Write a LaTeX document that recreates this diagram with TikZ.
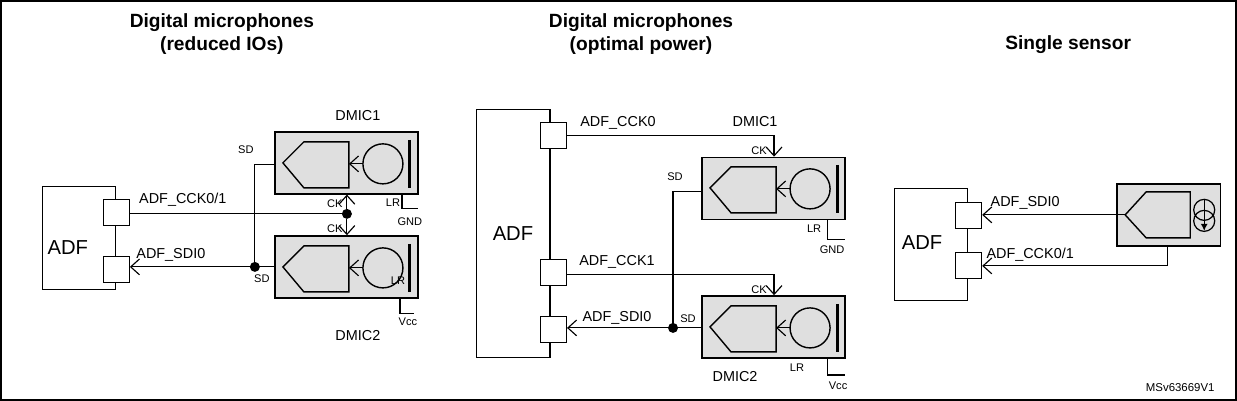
\documentclass[tikz,border=0pt]{standalone}
\usepackage{fontspec}
\setmainfont{Liberation Sans}
\usetikzlibrary{arrows.meta,positioning}

% mic block contents, (#1,#2) = top left corner of the grey box
\newcommand{\micinner}[2]{
  \begin{scope}[shift={(#1,#2)}]
    \draw[line width=0.8pt] (8,31) -- (29,10) -- (74,10) -- (74,56) -- (29,56) -- cycle;
    \draw[line width=0.8pt] (108,32) circle (20);
    \draw[line width=1.7pt] (135,8) -- (135,56);
    \draw[sig] (88,32) -- (74,32);
  \end{scope}
}

\tikzset{
  sig/.style={line width=0.65pt,-{Straight Barb[length=5pt,width=9pt]}},
  wire/.style={line width=0.65pt},
  mic box/.style={draw,line width=0.8pt,fill=gray!25,minimum width=2.86cm,minimum height=1.24cm,inner sep=0pt},
  adf box/.style={draw,line width=0.6pt,fill=white,inner sep=0pt},
  pin/.style={draw,line width=0.6pt,fill=white,minimum size=0.52cm,inner sep=0pt},
  dot/.style={circle,fill=black,minimum size=0.2cm,inner sep=0pt},
  title/.style={font=\fontsize{10.9}{13}\selectfont\bfseries,align=center},
  lbl/.style={font=\fontsize{8.2}{9}\selectfont,inner sep=0pt},
  sml/.style={font=\fontsize{6.3}{7}\selectfont,inner sep=0pt},
  big/.style={font=\fontsize{11.5}{13}\selectfont,inner sep=0pt}
}

\begin{document}
\begin{tikzpicture}[x=0.02cm,y=-0.02cm]
  \draw[line width=0.9pt] (1,1) rectangle (1236,400);

  % ---------- reduced IOs ----------
  \node[title] (t1) at (222,34) {Digital microphones\\(reduced IOs)};
  \node[adf box,minimum width=1.46cm,minimum height=2.06cm] (adfa) at (79.5,238.5) {};
  \node[big] at (68,248) {ADF};
  \node[pin] (pa1) at (116.5,213) {};
  \node[pin] (pa2) at (116.5,269.5) {};
  \node[mic box] (ma1) at (346.5,163) {};
  \node[mic box] (ma2) at (346.5,267) {};
  \micinner{275}{132}
  \micinner{275}{236}
  \node[dot] (ja1) at (347,214) {};
  \node[dot] (ja2) at (255,267) {};
  \coordinate (sa) at (255,165);
  \draw[wire] (pa1.east |- ja1) -- (ja1);
  \draw[sig] (ja1) -- (ja1 |- ma1.south);
  \draw[sig] (ja1) -- (ja1 |- ma2.north);
  \draw[wire] (ma1.west |- sa) -- (sa) -- (ja2);
  \draw[sig] (ma2.west |- ja2) -- (pa2.east |- ja2);
  \draw[wire] (402,194) -- (402,209) -- (418,209);
  \draw[wire] (400,298) -- (400,314) -- (414,314);
  \node[lbl] at (183,200) {ADF\_CCK0/1};
  \node[lbl] at (171,255) {ADF\_SDI0};
  \node[lbl] at (358,116) {DMIC1};
  \node[lbl] at (358,336) {DMIC2};
  \node[sml] at (246,150) {SD};
  \node[sml] at (262,279) {SD};
  \node[sml] at (335,204) {CK};
  \node[sml] at (335,229) {CK};
  \node[sml] at (393,203) {LR};
  \node[sml] at (410,222) {GND};
  \node[sml] at (398,281) {LR};
  \node[sml] at (408,322) {Vcc};

  % ---------- optimal power ----------
  \node[title] (t2) at (641,34) {Digital microphones\\(optimal power)};
  \node[adf box,minimum width=1.46cm,minimum height=4.96cm] (adfb) at (513.5,234) {};
  \node[big] at (513,234) {ADF};
  \node[pin] (pb1) at (553.5,136) {};
  \node[pin] (pb2) at (553.5,272.5) {};
  \node[pin] (pb3) at (553.5,329.5) {};
  \node[mic box] (mb1) at (773.5,188.5) {};
  \node[mic box] (mb2) at (773.5,327) {};
  \micinner{702}{157}
  \micinner{702}{296}
  \coordinate (cb1) at (774,136);
  \coordinate (cb2) at (774,275);
  \coordinate (sb) at (673,192);
  \node[dot] (jb) at (673,328) {};
  \draw[sig] (pb1.east |- cb1) -- (cb1) -- (cb1 |- mb1.north);
  \draw[sig] (pb2.east |- cb2) -- (cb2) -- (cb2 |- mb2.north);
  \draw[wire] (mb1.west |- sb) -- (sb) -- (jb);
  \draw[sig] (mb2.west |- jb) -- (pb3.east |- jb);
  \draw[wire] (827,220) -- (827,240) -- (845,240);
  \draw[wire] (827,358) -- (827,375) -- (845,375);
  \node[lbl] at (618,123) {ADF\_CCK0};
  \node[lbl] at (617,262) {ADF\_CCK1};
  \node[lbl] at (617,318) {ADF\_SDI0};
  \node[lbl] at (755,122) {DMIC1};
  \node[lbl] at (735,377) {DMIC2};
  \node[sml] at (675,177) {SD};
  \node[sml] at (688,319) {SD};
  \node[sml] at (759,151) {CK};
  \node[sml] at (759,290) {CK};
  \node[sml] at (814,229) {LR};
  \node[sml] at (832,250) {GND};
  \node[sml] at (797,368) {LR};
  \node[sml] at (838,386) {Vcc};

  % ---------- single sensor ----------
  \node[title] (t3) at (1068,45) {Single sensor};
  \node[adf box,minimum width=1.46cm,minimum height=2.24cm] (adfc) at (930.5,244.5) {};
  \node[big] at (922,243) {ADF};
  \node[pin] (pc1) at (968.5,216) {};
  \node[pin] (pc2) at (968.5,266) {};
  \node[mic box,minimum width=2.06cm] (sn) at (1168.5,215) {};
  \draw[line width=0.8pt] (1125,215) -- (1146,192) -- (1190,192) -- (1190,238) -- (1146,238) -- cycle;
  \draw[line width=0.7pt] (1204,210) circle (10.5) (1204,221) circle (10.5);
  \draw[line width=0.7pt,-{Latex[length=4pt,width=4pt]}] (1204,199) -- (1204,231);
  \coordinate (tip) at (1125,215);
  \coordinate (cc) at (1167,266);
  \draw[sig] (tip) -- (pc1.east |- tip);
  \draw[sig] (cc |- sn.south) -- (cc) -- (pc2.east);
  \node[lbl] at (1025,203) {ADF\_SDI0};
  \node[lbl] at (1030,255) {ADF\_CCK0/1};

  \node[sml,font=\fontsize{6.5}{7}\selectfont] at (1180,388) {MSv63669V1};
\end{tikzpicture}
\end{document}
